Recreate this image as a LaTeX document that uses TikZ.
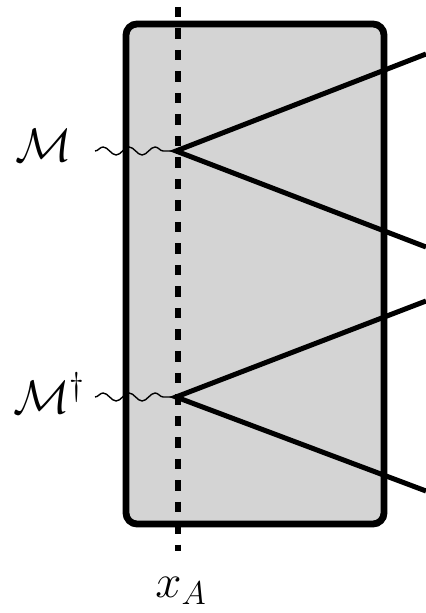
\RequirePackage{fix-cm}
\documentclass[tikz,border=0pt]{standalone}
\usetikzlibrary{decorations.pathmorphing}
\begin{document}
\begin{tikzpicture}[x=0.5pt,y=-0.5pt,
  box/.style={draw=black,fill=black!17,line width=3.4pt,rounded corners=5.5pt},
  cut/.style={line width=3pt,dash pattern=on 5.25pt off 5.5pt},
  leg/.style={line width=2.5pt},
  photon/.style={line width=0.7pt,decorate,decoration={snake,segment length=13pt,amplitude=2pt}},
  lbl/.style={inner sep=0pt,font=\fontsize{23.5}{28}\selectfont}]
\useasboundingbox (0,0) rectangle (426,613);
\draw[box] (126,24) rectangle (384,524);
\draw[cut] (177.5,7) -- (177.5,551);
\coordinate (v1) at (176,151);
\coordinate (v2) at (176,397);
\coordinate (e1) at (426,54);
\coordinate (e2) at (426,247);
\coordinate (e3) at (426,301);
\coordinate (e4) at (426,491);
\coordinate (w1) at (95,151);
\coordinate (w2) at (95,397);
\draw[leg] (e1) -- (v1) -- (e2);
\draw[leg] (e3) -- (v2) -- (e4);
\draw[photon] (w1) -- (v1);
\draw[photon] (w2) -- (v2);
\node[lbl,anchor=base east] (m1) at (72,162) {$\mathcal{M}$};
\node[lbl,anchor=base east] (m2) at (86,413) {$\mathcal{M}^\dagger$};
\node[lbl,anchor=base west] (xa) at (155,597) {$x_A$};
\end{tikzpicture}
\end{document}
